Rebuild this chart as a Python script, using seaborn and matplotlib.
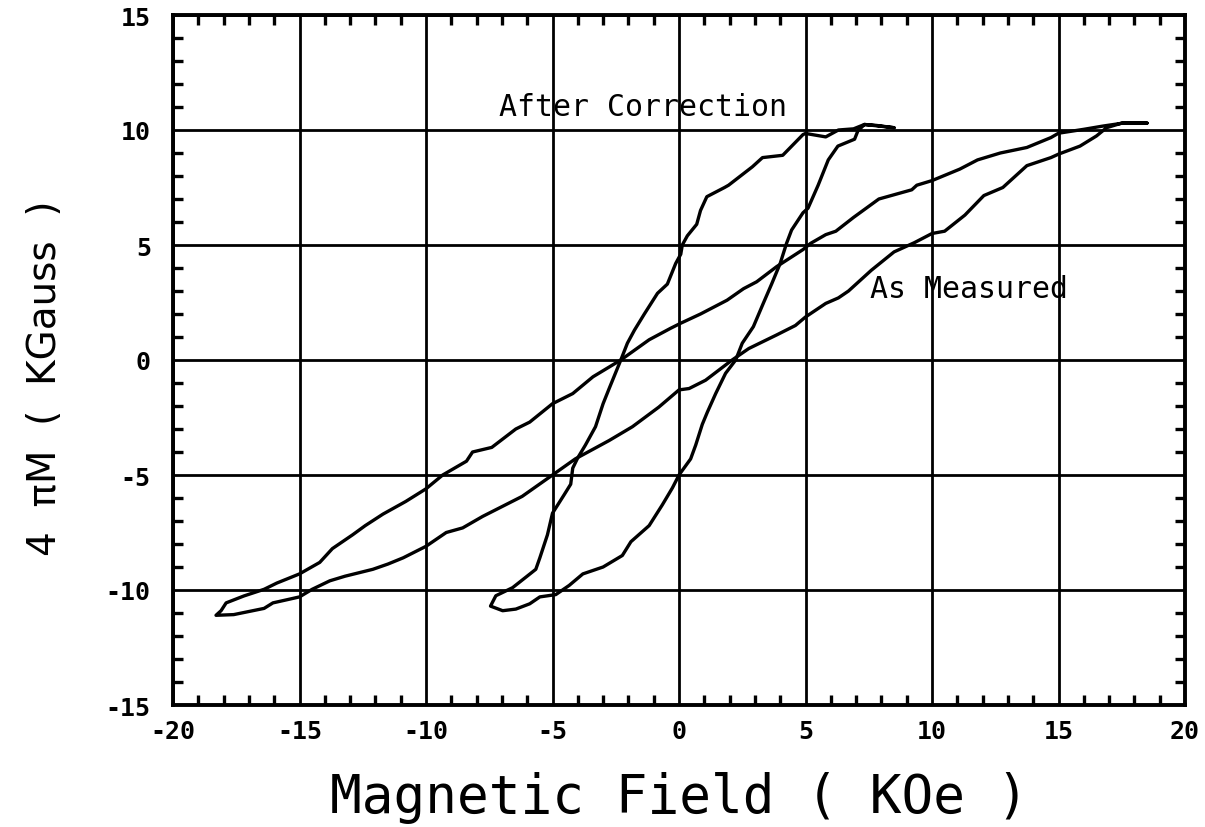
import numpy as np
import pandas as pd
import matplotlib
matplotlib.use("Agg")
import matplotlib.pyplot as plt
import seaborn as sns
from matplotlib.ticker import MultipleLocator

# ---- data ----
# "As Measured" loop: upper branch (from +H tip going to -H), then lower branch back
meas_up_x = [18.5, 17.55, 16.75, 16.0, 15.0, 14.7, 13.75, 12.7, 11.8, 11.1, 10.0, 9.4, 9.2, 7.9, 6.9,
             6.2, 5.8, 5.2, 4.9, 3.86, 3.07, 2.55, 1.9, 0.85, 0.07, -0.33, -1.18, -2.3, -3.4, -4.2,
             -5.0, -5.9, -6.45, -7.4, -8.16, -8.4, -9.34, -10.0, -10.8, -11.7, -12.4, -12.9, -13.7,
             -14.2, -15.0, -15.9, -16.4, -17.2, -17.9, -18.1, -18.3]
meas_up_y = [10.3, 10.3, 10.17, 10.03, 9.86, 9.67, 9.24, 9.0, 8.7, 8.3, 7.8, 7.6, 7.4, 7.0, 6.2,
             5.6, 5.45, 5.07, 4.8, 4.06, 3.4, 3.1, 2.6, 2.0, 1.6, 1.38, 0.88, 0.0, -0.73, -1.46,
             -1.9, -2.7, -3.0, -3.8, -4.0, -4.4, -5.0, -5.6, -6.15, -6.7, -7.2, -7.6, -8.2,
             -8.8, -9.3, -9.7, -9.97, -10.26, -10.56, -10.9, -11.1]
meas_dn_x = [-18.3, -17.6, -16.4, -16.05, -15.4, -15.0, -14.5, -13.8, -13.2, -12.1, -11.5, -10.9,
             -10.0, -9.2, -8.55, -7.76, -6.2, -5.0, -4.1, -2.76, -1.84, -0.8, 0.0, 0.4, 1.05, 2.1,
             2.76, 3.86, 4.6, 5.0, 5.8, 6.3, 6.7, 7.6, 8.5, 9.3, 10.0, 10.5, 11.3, 12.05, 12.8,
             13.75, 14.7, 15.0, 15.85, 16.5, 16.9, 17.5, 18.5]
meas_dn_y = [-11.1, -11.07, -10.8, -10.56, -10.4, -10.3, -9.97, -9.6, -9.4, -9.1, -8.87, -8.6,
             -8.1, -7.5, -7.3, -6.8, -5.93, -5.0, -4.3, -3.5, -2.9, -2.05, -1.3, -1.24, -0.88, 0.0,
             0.5, 1.09, 1.5, 1.87, 2.46, 2.7, 3.0, 3.9, 4.7, 5.1, 5.5, 5.6, 6.3, 7.15, 7.5,
             8.45, 8.8, 8.95, 9.3, 9.74, 10.1, 10.3, 10.3]

# "After Correction" loop
corr_up_x = [8.5, 7.8, 7.33, 6.9, 6.3, 5.8, 5.0, 4.9, 4.1, 3.3, 2.9, 1.96, 1.8, 1.1, 0.85, 0.7,
             0.33, 0.13, 0.07, -0.13, -0.46, -0.85, -1.37, -1.76, -2.04, -2.3, -2.76, -3.0, -3.3,
             -3.7, -4.0, -4.2, -4.28, -4.54, -5.0, -5.2, -5.5, -5.66, -6.05, -6.58, -7.24, -7.45]
corr_up_y = [10.1, 10.2, 10.24, 10.05, 10.0, 9.7, 9.85, 9.8, 8.9, 8.8, 8.4, 7.6, 7.5, 7.1, 6.5, 5.9,
             5.4, 5.0, 4.6, 4.2, 3.3, 2.9, 2.0, 1.3, 0.73, 0.0, -1.24, -1.9, -2.9,
             -3.7, -4.25, -4.7, -5.4, -5.86, -6.66, -7.6, -8.6, -9.1, -9.44, -9.9, -10.25, -10.7]
corr_dn_x = [-7.45, -6.97, -6.45, -5.9, -5.5, -4.87, -4.34, -3.8, -3.0, -2.24, -1.9, -1.18, -0.66,
             -0.26, 0.0, 0.46, 0.66, 0.92, 1.12, 1.45, 1.84, 2.24, 2.5, 2.94, 3.33, 3.66, 4.0,
             4.25, 4.45, 4.9, 5.1, 5.5, 5.9, 6.28, 6.94, 7.07, 7.33, 8.5]
corr_dn_y = [-10.7, -10.9, -10.83, -10.6, -10.3, -10.2, -9.8, -9.3, -9.0, -8.5, -7.9, -7.2, -6.3,
             -5.56, -5.0, -4.3, -3.7, -2.8, -2.27, -1.46, -0.58, 0.0, 0.73, 1.45, 2.46, 3.3, 4.2,
             5.07, 5.65, 6.4, 6.6, 7.6, 8.7, 9.3, 9.6, 9.96, 10.24, 10.1]

x_ticks = [-20, -15, -10, -5, 0, 5, 10, 15, 20]
y_ticks = [-15, -10, -5, 0, 5, 10, 15]

# ---- styling ----
sns.set_style("white")
plt.rcParams['font.family'] = ['DejaVu Sans Mono', 'DejaVu Sans']
plt.rcParams['axes.unicode_minus'] = False
plt.rcParams['text.color'] = 'black'
plt.rcParams['axes.labelcolor'] = 'black'
plt.rcParams['xtick.color'] = 'black'
plt.rcParams['ytick.color'] = 'black'

fig = plt.figure(figsize=(12.05, 8.28), dpi=100)
ax = fig.add_axes([173 / 1205, (828 - 706) / 828, 1012 / 1205, 690 / 828])

# grid
for v in x_ticks:
    ax.axvline(v, color='black', lw=2.0, zorder=1)
for v in y_ticks:
    ax.axhline(v, color='black', lw=2.0, zorder=1)

def loop(xu, yu, xd, yd):
    return pd.DataFrame({'H': list(xu) + list(xd), 'M': list(yu) + list(yd)})

meas = loop(meas_up_x, meas_up_y, meas_dn_x, meas_dn_y)
corr = loop(corr_up_x, corr_up_y, corr_dn_x, corr_dn_y)

sns.lineplot(data=meas, x='H', y='M', sort=False, estimator=None, color='black', lw=2.4, ax=ax, zorder=3)
sns.lineplot(data=corr, x='H', y='M', sort=False, estimator=None, color='black', lw=2.4, ax=ax, zorder=3)

ax.set_xlim(-20, 20)
ax.set_ylim(-15, 15)
ax.set_xticks(x_ticks)
ax.set_yticks(y_ticks)
ax.set_xticklabels([str(t) for t in x_ticks], fontsize=18, fontweight='bold')
ax.set_yticklabels([str(t) for t in y_ticks], fontsize=18, fontweight='bold')
ax.xaxis.set_minor_locator(MultipleLocator(1))
ax.yaxis.set_minor_locator(MultipleLocator(1))
ax.tick_params(axis='x', which='major', length=0, pad=10, labelcolor='black')
ax.tick_params(axis='y', which='major', length=0, pad=16, labelcolor='black')
ax.tick_params(which='minor', direction='in', length=7, width=2.4,
               top=True, bottom=True, left=True, right=True, color='black')

for s in ax.spines.values():
    s.set_visible(True)
    s.set_color('black')
    s.set_linewidth(2.8)

ax.set_xlabel('Magnetic Field ( KOe )', fontsize=38, labelpad=20, color='black')
ax.set_ylabel('4  πM  (  KGauss  )', fontsize=28, family=['DejaVu Sans'], color='black')
ax.yaxis.set_label_coords(-0.108, 0.475)

ax.text(-7.1, 11.0, 'After Correction', fontsize=21.5, ha='left', va='center', zorder=4, color='black')
ax.text(7.55, 3.1, 'As Measured', fontsize=21.5, ha='left', va='center', zorder=4, color='black')

fig.savefig('out.png', dpi=100, facecolor='white')
